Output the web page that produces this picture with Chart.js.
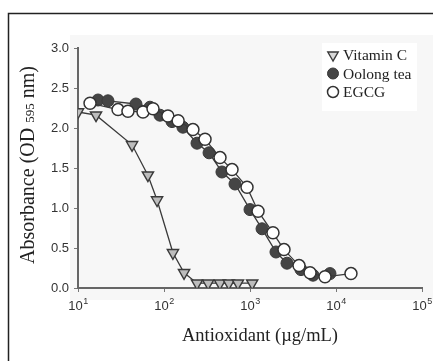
<!DOCTYPE html>
<html>
<head>
<meta charset="utf-8">
<script src="https://cdn.jsdelivr.net/npm/chart.js@4.4.1/dist/chart.umd.min.js"></script>
<style>
  html, body { margin: 0; padding: 0; background: #fff; overflow: hidden; }
  canvas { display: block; }
</style>
</head>
<body>
<canvas id="chart" width="433" height="361"></canvas>
<script>
// values (x in µg/mL, y in OD 595 nm)
const vitCX = [10, 16.2, 42.5, 65, 83, 127, 171, 242, 326, 447, 567, 724, 1060];
const vitCY = [2.20, 2.16, 1.79, 1.41, 1.10, 0.44, 0.19, 0.06, 0.06, 0.06, 0.06, 0.06, 0.06];

const oolongX = [17.1, 22.3, 47.2, 68.7, 89.8, 124, 166, 242, 334, 472, 669, 1000, 1380, 2005, 2692, 3918, 5405, 8511];
const oolongY = [2.35, 2.34, 2.30, 2.26, 2.16, 2.08, 2.01, 1.81, 1.69, 1.45, 1.30, 0.98, 0.74, 0.45, 0.31, 0.23, 0.16, 0.18];

const egcgX = [13.8, 29.2, 38.1, 57, 74.5, 111, 146, 217, 300, 448, 618, 923, 1240, 1850, 2485, 3715, 4990, 7450, 14930];
const egcgY = [2.31, 2.23, 2.21, 2.20, 2.24, 2.15, 2.09, 1.98, 1.86, 1.63, 1.48, 1.26, 0.96, 0.69, 0.48, 0.28, 0.19, 0.14, 0.18];

const xTicks = [10, 100, 1000, 10000, 100000];
const xTickExp = ['1', '2', '3', '4', '5'];
const yTicks = [0, 0.5, 1.0, 1.5, 2.0, 2.5, 3.0];

const toPoints = (xs, ys) => xs.map((x, i) => ({ x, y: ys[i] }));

const serif = '"Liberation Serif", "Times New Roman", serif';
const sans = '"Liberation Sans", Arial, sans-serif';

// frame, background, legend, x tick labels and the two axis titles
const decor = {
  id: 'decor',
  beforeDraw(chart) {
    const { ctx, chartArea: a } = chart;
    ctx.save();
    ctx.fillStyle = '#f7f7f7';
    ctx.fillRect(a.left - 8, a.top - 13, chart.width, a.bottom - a.top + 25);
    ctx.fillStyle = '#ffffff';
    ctx.fillRect(a.right - 100, a.top - 5, 95, 68);
    // outer frame, only left and top edges are in the picture
    ctx.strokeStyle = '#222';
    ctx.lineWidth = 1.5;
    ctx.beginPath();
    ctx.moveTo(8.5, chart.height);
    ctx.lineTo(8.5, 13.5);
    ctx.lineTo(chart.width, 13.5);
    ctx.stroke();
    ctx.restore();
  },
  afterDraw(chart) {
    const { ctx, chartArea: a } = chart;
    const xs = chart.scales.x;
    ctx.save();

    // x tick labels: 10 with a raised exponent
    ctx.fillStyle = '#333';
    ctx.textBaseline = 'alphabetic';
    xTicks.forEach((v, i) => {
      const px = xs.getPixelForValue(v);
      ctx.font = '13px ' + sans;
      const w1 = ctx.measureText('10').width;
      ctx.font = '9px ' + sans;
      const w2 = ctx.measureText(xTickExp[i]).width;
      const left = px - (w1 + w2) / 2;
      ctx.font = '13px ' + sans;
      ctx.textAlign = 'left';
      ctx.fillText('10', left, a.bottom + 22);
      ctx.font = '9px ' + sans;
      ctx.fillText(xTickExp[i], left + w1 + 0.5, a.bottom + 16);
    });

    // legend
    [0, 1, 2].forEach((di, row) => {
      const ds = chart.data.datasets[di];
      const y = a.top + 7 + row * 18.5;
      const x = a.right - 89;
      ctx.fillStyle = ds.legendFill || ds.pointBackgroundColor;
      ctx.strokeStyle = ds.pointBorderColor;
      ctx.lineWidth = ds.pointBorderWidth;
      Chart.helpers.drawPoint(ctx, {
        pointStyle: ds.pointStyle,
        radius: ds.legendRadius,
        rotation: ds.pointRotation || 0,
        borderWidth: ds.pointBorderWidth
      }, x, y);
      ctx.fillStyle = '#222';
      ctx.font = '15.5px ' + serif;
      ctx.textBaseline = 'middle';
      ctx.textAlign = 'left';
      ctx.fillText(ds.label, x + 10, y + 1);
    });

    // x title
    ctx.fillStyle = '#222';
    ctx.font = '18.5px ' + serif;
    ctx.textAlign = 'center';
    ctx.textBaseline = 'middle';
    ctx.fillText('Antioxidant (µg/mL)', 260, 336);

    // y title with small "595"
    const parts = [['Absorbance (OD ', 20], ['595', 13], [' nm)', 20]];
    let total = 0;
    parts.forEach(p => { ctx.font = p[1] + 'px ' + serif; total += ctx.measureText(p[0]).width; });
    ctx.translate(27, 165);
    ctx.rotate(-Math.PI / 2);
    ctx.textAlign = 'left';
    ctx.textBaseline = 'alphabetic';
    let cx = -total / 2;
    parts.forEach(p => {
      ctx.font = p[1] + 'px ' + serif;
      ctx.fillText(p[0], cx, 7);
      cx += ctx.measureText(p[0]).width;
    });
    ctx.restore();
  }
};

const lineColor = '#3a3a3a';

new Chart(document.getElementById('chart'), {
  type: 'scatter',
  data: {
    datasets: [
      {
        label: 'Vitamin C',
        data: toPoints(vitCX, vitCY),
        showLine: true,
        borderColor: lineColor,
        borderWidth: 1.3,
        pointStyle: 'triangle',
        pointRotation: 180,
        pointRadius: 6.5,
        legendRadius: 6,
        pointBackgroundColor: '#bdbdbd',
        legendFill: '#d8d8d8',
        pointBorderColor: '#3a3a3a',
        pointBorderWidth: 1.4,
        order: 2
      },
      {
        label: 'Oolong tea',
        data: toPoints(oolongX, oolongY),
        showLine: true,
        borderColor: lineColor,
        borderWidth: 1.3,
        pointStyle: 'circle',
        pointRadius: 6,
        legendRadius: 5.5,
        pointBackgroundColor: '#454545',
        pointBorderColor: '#3a3a3a',
        pointBorderWidth: 1,
        order: 1
      },
      {
        label: 'EGCG',
        data: toPoints(egcgX, egcgY),
        showLine: true,
        borderColor: lineColor,
        borderWidth: 1.3,
        pointStyle: 'circle',
        pointRadius: 6,
        legendRadius: 5.5,
        pointBackgroundColor: '#ffffff',
        pointBorderColor: '#333333',
        pointBorderWidth: 1.5,
        order: 0
      }
    ]
  },
  options: {
    responsive: false,
    animation: false,
    layout: { padding: { left: 0, right: 11, top: 48, bottom: 43 } },
    plugins: { legend: { display: false }, tooltip: { enabled: false } },
    elements: { line: { tension: 0 } },
    scales: {
      x: {
        type: 'logarithmic',
        min: 10,
        max: 100000,
        afterBuildTicks: (s) => { s.ticks = xTicks.map(v => ({ value: v })); },
        afterFit: (s) => { s.height = 30; },
        ticks: {
          autoSkip: false,
          maxRotation: 0,
          color: 'rgba(0,0,0,0)',
          font: { family: sans, size: 12 },
          callback: () => ''
        },
        grid: { drawOnChartArea: false, tickLength: 4, color: '#777', lineWidth: 1 },
        border: { color: '#666', width: 2 }
      },
      y: {
        min: 0,
        max: 3,
        afterBuildTicks: (s) => { s.ticks = yTicks.map(v => ({ value: v })); },
        afterFit: (s) => { s.width = 78; },
        ticks: {
          padding: 5,
          color: '#333',
          font: { family: sans, size: 13 },
          callback: (v) => v.toFixed(1)
        },
        grid: { drawOnChartArea: false, tickLength: 4, color: '#777', lineWidth: 1 },
        border: { color: '#666', width: 2 }
      }
    }
  },
  plugins: [decor]
});
</script>
</body>
</html>
